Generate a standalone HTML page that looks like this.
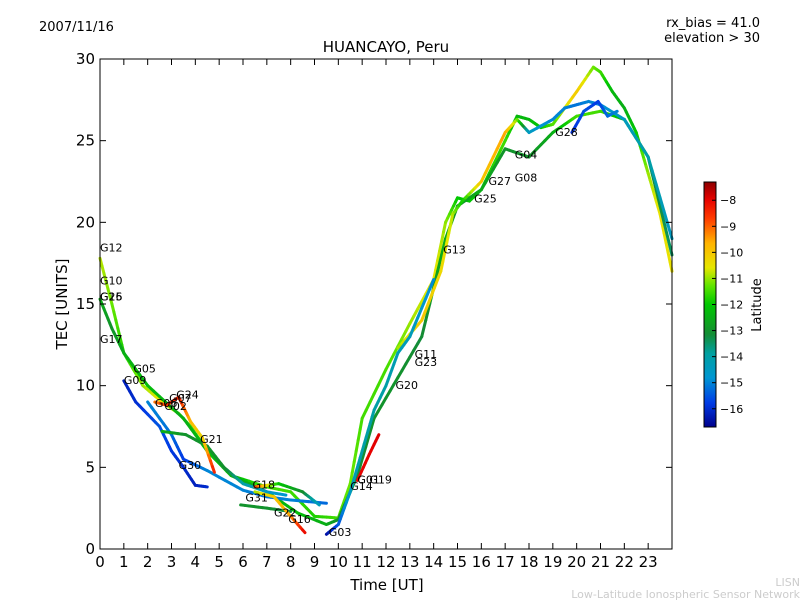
<!DOCTYPE html>
<html><head><meta charset="utf-8"><style>
body{margin:0;background:#fff;}
svg{display:block;font-family:"DejaVu Sans","Liberation Sans",sans-serif;}
</style></head><body>
<svg id="chart" width="800" height="600">
<rect width="800" height="600" fill="#fff"/>
<text x="39" y="31" font-size="13">2007/11/16</text>
<text x="760" y="27" font-size="13" text-anchor="end">rx_bias = 41.0</text>
<text x="760" y="42" font-size="13" text-anchor="end">elevation &gt; 30</text>
<text x="386" y="52" font-size="15" text-anchor="middle">HUANCAYO, Peru</text>
<text x="387" y="590" font-size="15" text-anchor="middle">Time [UT]</text>
<text transform="translate(67,304) rotate(-90)" font-size="15" text-anchor="middle">TEC [UNITS]</text>
<text transform="translate(761,305) rotate(-90)" font-size="13" text-anchor="middle">Latitude</text>
<text x="800" y="586" font-size="11" fill="#ccc" text-anchor="end">LISN</text>
<text x="800" y="598" font-size="11" fill="#ccc" text-anchor="end">Low-Latitude Ionospheric Sensor Network</text>
<g id="marks"></g>
<g id="axes"></g>
</svg>
<script>
const xTicks=[0,1,2,3,4,5,6,7,8,9,10,11,12,13,14,15,16,17,18,19,20,21,22,23];
const yTicks=[0,5,10,15,20,25,30];
const cbTicks=[-8,-9,-10,-11,-12,-13,-14,-15,-16];
// tracks: times, tec, latitude
const tA_t=[0,0.5,1,1.8,2.6,3.3,3.8,4.5,5.5,7,8,9,10,10.5,11,12,13,14,14.5,15,15.5,16,17,17.5,18,18.5,19,20,20.7,21,21.5,22,22.5,23,23.5,24];
const tA_v=[17.8,15,12,10,9,8.3,7.5,6,4.5,3.8,3.5,2,1.9,4,8,11,13.8,16.5,20,21.5,21.3,22,25,26.5,26.3,25.8,26,28,29.5,29.2,28,27,25.5,23,20.5,17];
const tA_l=[-10.8,-11.2,-11.8,-11,-10.5,-11,-11.5,-12,-12.3,-11.5,-11.5,-11.8,-11.5,-11.2,-11.5,-11.5,-11,-10.5,-11,-12,-12,-12,-11.5,-12.3,-12.3,-12,-11.5,-10,-11.2,-11.5,-12.3,-12.5,-12,-11,-10.5,-10.5];
const tB_t=[0,0.5,1,2,3.5,4.5,5.5,7,8.3,9.5,10,10.8,11.5,12.5,13.5,14.5,15,16,17,18,19,20,21,22,23,24];
const tB_v=[15.3,13.5,12,10,8,6,4.5,3.5,2.2,1.5,1.8,4.5,8,10.5,13,19,21,22,24.5,24,25.5,26.5,26.8,26.3,24,18];
const tB_l=[-12.5,-13,-12.5,-12.2,-12.5,-12.2,-12.5,-12.5,-12.2,-12.5,-13,-13.2,-13,-13,-13.2,-12.5,-13,-12.5,-13,-13,-12.5,-11.5,-11.5,-12.3,-13,-13.5];
const tC_t=[12.5,13.5,14.3,14.8,15.2,16,17,17.5,18,19,19.5,20,20.5,21,22,23,24];
const tC_v=[12.3,14,17,20.5,21.3,22.5,25.5,26.3,25.5,26.3,27,27.2,27.4,27.2,26.3,24,19];
const tC_l=[-11,-10,-10.3,-10.8,-12,-10,-9.5,-11,-14.5,-15,-15,-15.2,-15,-15,-14.5,-14,-14.5];
const tD_t=[1,1.5,2.5,3,3.5,4,4.5];
const tD_v=[10.3,9,7.5,6,5,3.9,3.8];
const tD_l=[-16.2,-16,-15.5,-15.8,-16,-16.2,-16];
const tE_t=[2,3,3.5,4.5,6,7,8,9.5];
const tE_v=[9,7,5.5,4.8,3.6,3.2,3,2.8];
const tE_l=[-15,-15.2,-15.8,-15,-15,-15.2,-15,-15.3];
const tF_t=[2.6,3.6,4.5,5.2,6,7,7.8];
const tF_v=[7.2,7,6.3,5,4,3.5,3.3];
const tF_l=[-12.5,-13,-13,-13,-14,-14.5,-14.8];
const tG_t=[6.5,7.5,8.5,9.2];
const tG_v=[3.8,4,3.5,2.7];
const tG_l=[-8.5,-12,-13,-14.5];
const tH_t=[5.9,7,8];
const tH_v=[2.7,2.5,2.3];
const tH_l=[-13,-13,-13.3];
const tI_t=[6.5,7.3,8,8.6];
const tI_v=[3.5,3.2,2,1];
const tI_l=[-11,-10,-9.5,-8];
const tJ_t=[9.5,10,10.5,11,11.5,12,12.5,13,14];
const tJ_v=[0.9,1.5,3.5,6,8.5,10,12,13,16.5];
const tJ_l=[-16.5,-15.5,-14.5,-14,-14,-14,-14.3,-14.3,-15];
const tK_t=[2.3,2.8,3.3,3.8,4.3,4.8];
const tK_v=[9,8.8,9.3,7.8,6.8,4.7];
const tK_l=[-9.2,-8.7,-8.3,-9.7,-10.3,-8.3];
const tL_t=[10.8,11.3,11.7];
const tL_v=[4.2,5.8,7];
const tL_l=[-8,-8,-7.9];
const tM_t=[19.8,20.3,20.9,21.3,21.7];
const tM_v=[25.5,26.8,27.4,26.5,26.8];
const tM_l=[-16,-15.5,-15.8,-15.3,-15];
const labels=["G12","G10","G26","G15","G17","G05","G09","G24","G07","G02","G06","G21","G30","G18","G31","G22","G16","G03","G14","G01","G19","G20","G11","G23","G13","G25","G27","G08","G04","G28"];
const labT=[0,0,0,0,0,1.4,1,3.2,2.9,2.7,2.3,4.2,3.3,6.4,6.1,7.3,7.9,9.6,10.5,10.8,11.3,12.4,13.2,13.2,14.4,15.7,16.3,17.4,17.4,19.1];
const labV=[18.2,16.2,15.2,15.2,12.6,10.8,10.1,9.2,9,8.5,8.7,6.5,4.9,3.7,2.9,2,1.6,0.8,3.6,4,4,9.8,11.7,11.2,18.1,21.2,22.3,22.5,23.9,25.3];

const X=t=>100+t*572/24, Y=v=>549-v*490/30;
const LMIN=-16.7,LMAX=-7.3;
const CSTOPS=[[0,[0,0,140]],[0.1,[0,60,230]],[0.2,[0,150,210]],[0.3,[0,160,160]],[0.38,[20,140,50]],[0.5,[0,200,0]],[0.58,[100,230,0]],[0.65,[230,230,0]],[0.75,[255,180,0]],[0.85,[255,60,0]],[0.93,[230,0,0]],[1,[140,0,0]]];
function jet(l){let f=(l-LMIN)/(LMAX-LMIN);f=Math.max(0,Math.min(1,f));
 for(let i=0;i<CSTOPS.length-1;i++){const [a,ca]=CSTOPS[i],[b,cb]=CSTOPS[i+1];
  if(f<=b){const u=(f-a)/(b-a);const c=ca.map((v,k)=>Math.round(v+(cb[k]-v)*u));return `rgb(${c[0]},${c[1]},${c[2]})`;}}
 return 'rgb(140,0,0)';}
const NS='http://www.w3.org/2000/svg';
const marks=document.getElementById('marks'),axes=document.getElementById('axes');
function mk(tag,attrs,parent){const e=document.createElementNS(NS,tag);for(const k in attrs)e.setAttribute(k,attrs[k]);parent.appendChild(e);return e;}
const tracks=[[tA_t,tA_v,tA_l],[tB_t,tB_v,tB_l],[tC_t,tC_v,tC_l],[tD_t,tD_v,tD_l],[tE_t,tE_v,tE_l],[tF_t,tF_v,tF_l],[tG_t,tG_v,tG_l],[tH_t,tH_v,tH_l],[tI_t,tI_v,tI_l],[tJ_t,tJ_v,tJ_l],[tK_t,tK_v,tK_l],[tL_t,tL_v,tL_l],[tM_t,tM_v,tM_l]];
tracks.forEach((tr,ti)=>{const [ts,vs,ls]=tr;
 for(let i=0;i<ts.length-1;i++){
  const n=6;
  for(let k=0;k<n;k++){const a=k/n,b=(k+1)/n;
   const seg=mk('line',{x1:X(ts[i]+(ts[i+1]-ts[i])*a),y1:Y(vs[i]+(vs[i+1]-vs[i])*a),x2:X(ts[i]+(ts[i+1]-ts[i])*b),y2:Y(vs[i]+(vs[i+1]-vs[i])*b),stroke:jet(ls[i]+(ls[i+1]-ls[i])*(a+b)/2),'stroke-width':3,'stroke-linecap':'round'},marks);
   
   
  }}});
labels.forEach((s,i)=>{const t=mk('text',{x:X(labT[i]),y:Y(labV[i]),'font-size':11},marks);t.textContent=s;
 
 });
const fr=mk('rect',{x:100,y:59,width:572,height:490,fill:'none',stroke:'#000','stroke-width':1},axes);


xTicks.forEach(t=>{const x=X(t);
 mk('line',{x1:x,y1:549,x2:x,y2:543,stroke:'#000'},axes);mk('line',{x1:x,y1:59,x2:x,y2:65,stroke:'#000'},axes);
 const tx=mk('text',{x:x,y:567,'font-size':15,'text-anchor':'middle'},axes);tx.textContent=t;
 
 });
yTicks.forEach(v=>{const y=Y(v);
 mk('line',{x1:100,y1:y,x2:106,y2:y,stroke:'#000'},axes);mk('line',{x1:672,y1:y,x2:666,y2:y,stroke:'#000'},axes);
 const tx=mk('text',{x:95,y:y+5,'font-size':15,'text-anchor':'end'},axes);tx.textContent=v;
 
 });
// colorbar
const cbTop=182,cbBot=427,CY=l=>cbBot-(l-LMIN)/(LMAX-LMIN)*(cbBot-cbTop);
const g=mk('linearGradient',{id:'jetg',x1:0,y1:1,x2:0,y2:0},mk('defs',{},axes));
for(let i=0;i<=40;i++){mk('stop',{offset:i/40,'stop-color':jet(LMIN+(LMAX-LMIN)*i/40)},g);}
const cb=mk('rect',{x:704,y:cbTop,width:12,height:cbBot-cbTop,fill:'url(#jetg)',stroke:'#000'},axes);


cbTicks.forEach(l=>{const y=CY(l);
 mk('line',{x1:712,y1:y,x2:716,y2:y,stroke:'#000'},axes);
 const tx=mk('text',{x:720,y:y+4,'font-size':11},axes);tx.textContent='\u2212'+Math.abs(l);
 
 });
</script>
</body></html>
